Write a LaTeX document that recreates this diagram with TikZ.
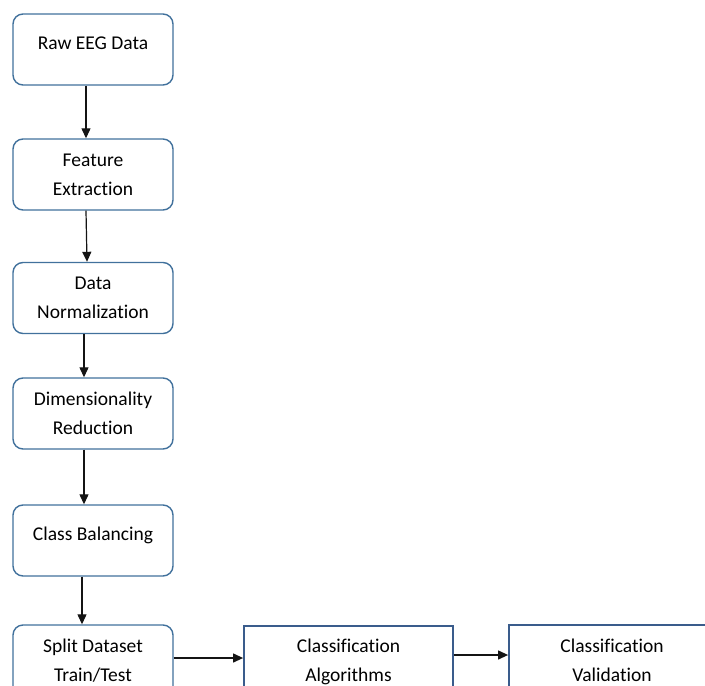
\documentclass[tikz,border=0pt]{standalone}
\usepackage{xcolor}
\usepackage{fontspec}
\setmainfont{Carlito}[Ligatures=NoCommon]
\usepackage{tikz}
\usetikzlibrary{arrows.meta, positioning}
\definecolor{myblue}{RGB}{65,113,156}
\definecolor{mynavy}{RGB}{58,92,140}
\definecolor{mydark}{RGB}{20,20,20}
\tikzset{
  stepbox/.style={rectangle, draw=myblue, fill=white,
    minimum width=160pt, minimum height=71pt, align=center,
    font=\fontsize{19.5}{29}\selectfont, rounded corners=10pt, line width=1.4pt},
  onebox/.style={stepbox, text height=15pt, text depth=15pt},
  algobox/.style={rectangle, draw=mynavy, fill=white,
    minimum width=209pt, minimum height=71pt, align=center,
    font=\fontsize{19.5}{29}\selectfont, line width=1.8pt},
  arrow/.style={-{Triangle[length=10pt, width=9pt]}, line width=1.2pt, color=mydark}
}
\begin{document}
\begin{tikzpicture}[x=1pt, y=-1pt]
  \useasboundingbox (0,0) rectangle (705,686);
  % Preprocessing column
  \node[onebox] (raw) at (93,49.5) {Raw EEG Data};
  \node[stepbox] (feat) at (93,174.5) {Feature\\Extraction};
  \node[stepbox] (norm) at (93,298) {Data\\Normalization};
  \node[stepbox] (dimred) at (93,413.5) {Dimensionality\\Reduction};
  \node[onebox] (balance) at (93,540.5) {Class Balancing};
  \node[stepbox] (split) at (93,660.5) {Split Dataset\\Train/Test};
  % Classification row
  \node[algobox] (algo) at (348.5,661.5) {Classification\\Algorithms};
  \node[algobox, minimum width=206pt] (valid) at (612,660.5) {Classification\\Validation};
  % Arrows
  \draw[arrow] ([xshift=-7pt]raw.south) -- ([xshift=-7pt]feat.north);
  \draw[arrow] ([xshift=-7pt]feat.south) -- ([xshift=-6pt]norm.north);
  \draw[arrow] ([xshift=-9pt]norm.south) -- ([xshift=-9pt]dimred.north);
  \draw[arrow] ([xshift=-9pt]dimred.south) -- ([xshift=-9pt]balance.north);
  \draw[arrow] ([xshift=-11pt]balance.south) -- ([xshift=-11pt]split.north);
  \draw[arrow] ([yshift=2.5pt]split.east) -- ([yshift=3.5pt]algo.west);
  \draw[arrow] ([yshift=6.5pt]algo.east) -- ([yshift=5.5pt]valid.west);
\end{tikzpicture}
\end{document}
